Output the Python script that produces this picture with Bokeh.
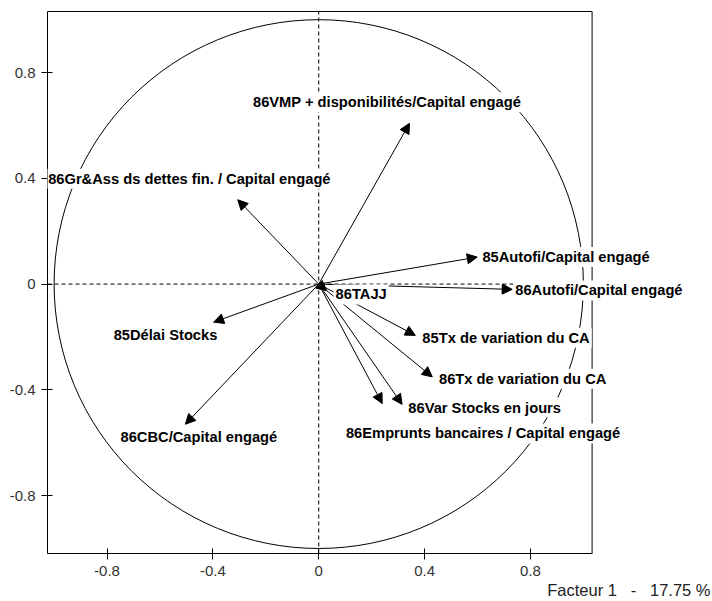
from bokeh.plotting import figure
from bokeh.models import Range1d, Arrow, NormalHead, Label, FixedTicker, Title
from bokeh.embed import file_html
from bokeh.resources import INLINE

# ---- data (factor coordinates) ----
variables = [
    "86VMP + disponibilités/Capital engagé",
    "86Gr&Ass ds dettes fin. / Capital engagé",
    "85Autofi/Capital engagé",
    "86Autofi/Capital engagé",
    "86TAJJ",
    "85Tx de variation du CA",
    "86Tx de variation du CA",
    "86Var Stocks en jours",
    "86Emprunts bancaires / Capital engagé",
    "85Délai Stocks",
    "86CBC/Capital engagé",
]
factor1 = [0.343, -0.306, 0.599, 0.731, 0.030, 0.365, 0.429, 0.315, 0.240, -0.397, -0.504]
factor2 = [0.608, 0.319, 0.102, -0.020, -0.025, -0.194, -0.351, -0.455, -0.452, -0.144, -0.530]

# label anchor points (data units) and alignment
label_x = [0.258, -0.489, 0.611, 0.735, 0.056, 0.384, 0.447, 0.331, 0.621, -0.579, -0.453]
label_y = [0.688, 0.398, 0.102, -0.024, -0.039, -0.203, -0.358, -0.467, -0.565, -0.194, -0.580]
label_align = ["center", "center", "left", "left", "left", "left", "left", "left",
               "center", "center", "center"]

tick_values = [-0.8, -0.4, 0, 0.4, 0.8]
tick_labels = ["-0.8", "-0.4", "0", "0.4", "0.8"]
axis_title = "Facteur 1\u00a0\u00a0\u00a0-\u00a0\u00a0\u00a017.75 %"

# limits of the boxed plotting area (data units)
box_x = (-1.025, 1.033)
box_y = (-1.019, 1.031)

p = figure(width=712, height=601,
           x_range=Range1d(box_x[0], 1.488), y_range=Range1d(box_y[0], 1.0726),
           output_backend="svg", toolbar_location=None,
           min_border_left=47, min_border_top=0, min_border_right=0, min_border_bottom=48)

p.xgrid.visible = False
p.ygrid.visible = False
p.outline_line_color = None
p.background_fill_color = "white"
p.border_fill_color = "white"

for ax in (p.xaxis[0], p.yaxis[0]):
    ax.ticker = FixedTicker(ticks=tick_values)
    ax.major_label_overrides = {v: l for v, l in zip(tick_values, tick_labels)}
    ax.minor_tick_line_color = None
    ax.major_tick_out = 6
    ax.major_tick_in = 5
    ax.axis_line_color = "black"
    ax.major_tick_line_color = "black"
    ax.major_label_text_font = "Liberation Sans"
    ax.major_label_text_font_size = "15px"
    ax.major_label_text_color = "#333333"
    ax.major_label_standoff = 6
p.xaxis[0].bounds = box_x
p.yaxis[0].bounds = box_y

# box (top and right edges of the plotting area)
p.quad(left=[box_x[0]], right=[box_x[1]], bottom=[box_y[0]], top=[box_y[1]],
       fill_color=None, line_color="black", line_width=1)

# unit circle
p.ellipse(x=[0], y=[0], width=[2], height=[2], fill_color=None,
          line_color="black", line_width=1)

# dashed axes through origin
p.segment(x0=[box_x[0], 0], y0=[0, box_y[0]], x1=[box_x[1], 0], y1=[0, box_y[1]],
          line_color="black", line_dash="4 3", line_width=1)

# arrows
for fx, fy in zip(factor1, factor2):
    p.add_layout(Arrow(end=NormalHead(size=10, fill_color="black", line_color="black", line_width=1),
                       x_start=0, y_start=0, x_end=fx, y_end=fy,
                       line_color="black", line_width=1))

# labels
for name, lx, ly, al in zip(variables, label_x, label_y, label_align):
    p.add_layout(Label(x=lx, y=ly, text=name, text_align=al, text_baseline="middle",
                       text_font="Liberation Sans", text_font_style="bold",
                       text_font_size="14.7px", text_color="black",
                       background_fill_color="white", padding=2))

# factor title bottom right
p.add_layout(Title(text=axis_title, align="right", offset=2, standoff=0,
                   text_font="Liberation Sans", text_font_style="normal",
                   text_font_size="16.5px", text_color="#222222"), "below")

open("out.html", "w").write(file_html(p, INLINE))
